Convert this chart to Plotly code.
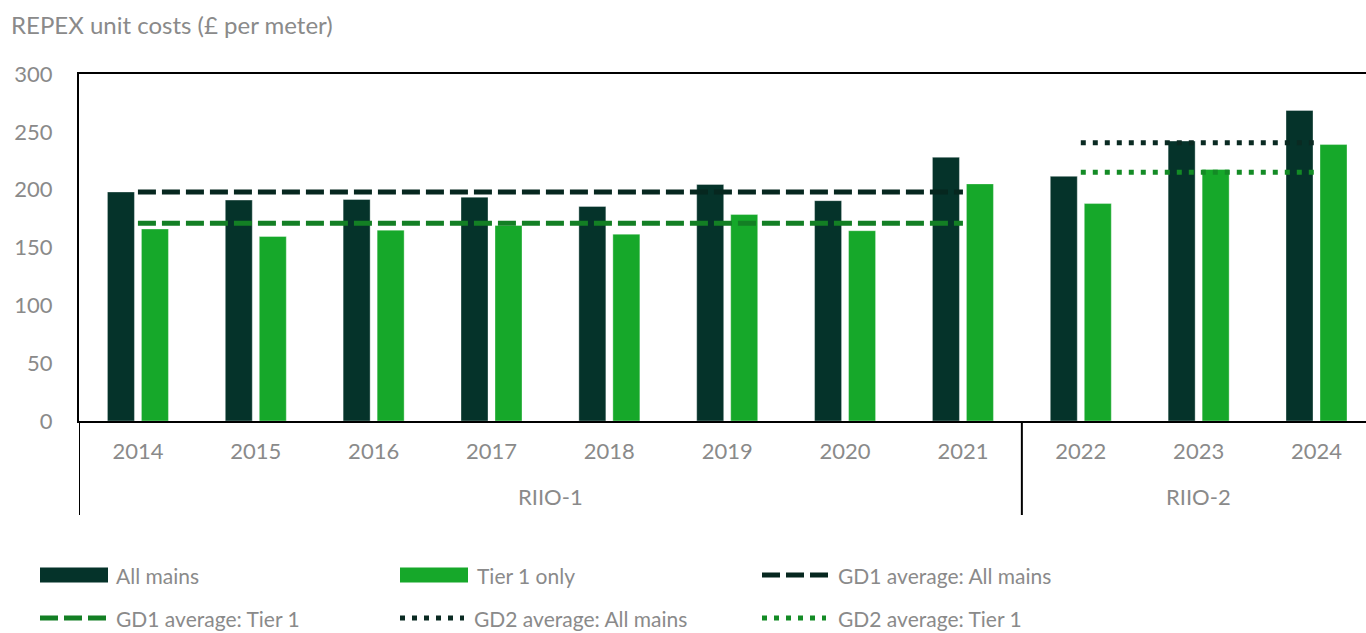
import plotly.graph_objects as go

years = ["2014", "2015", "2016", "2017", "2018", "2019", "2020", "2021", "2022", "2023", "2024"]
periods = ["RIIO-1"] * 8 + ["RIIO-2"] * 3
all_mains = [198, 191, 191.5, 193.5, 185.5, 204.5, 190.5, 228, 211.5, 242, 268.5]
tier1_only = [166, 159.5, 165, 169, 161.5, 178.5, 164.5, 205, 188, 217.5, 239]
gd1_avg_all = 198
gd1_avg_tier1 = 171
gd2_avg_all = 240.5
gd2_avg_tier1 = 215
y_ticks = [0, 50, 100, 150, 200, 250, 300]

DARK = "#05332A"
GREEN = "#16A82A"
GD1_ALL_C = "#06271F"
GD1_T1_C = "#137F24"
GD2_ALL_C = "#0A2A22"
GD2_T1_C = "#138B25"
GREY = "#8a8a8a"
FONT = "Lato"

W, H = 1366, 633
ML, MR, MT, MB = 79, 0, 74, 212
PW, PH = W - ML - MR, H - MT - MB

def px(x):
    return (x - ML) / PW

def py(y):
    return (H - MB - y) / PH

xs = list(range(len(years)))
gd1_idx = [i for i, p in enumerate(periods) if p == "RIIO-1"]
gd2_idx = [i for i, p in enumerate(periods) if p == "RIIO-2"]

fig = go.Figure()
fig.add_trace(go.Bar(x=xs, y=all_mains, name="All mains", marker=dict(color=DARK, line=dict(color="rgba(255,255,255,0.35)", width=1))))
fig.add_trace(go.Bar(x=xs, y=tier1_only, name="Tier 1 only", marker=dict(color=GREEN, line=dict(color="rgba(255,255,255,0.35)", width=1))))

fig.add_trace(go.Scatter(x=[gd1_idx[0], gd1_idx[-1]], y=[gd1_avg_all] * 2, mode="lines",
                         line=dict(color=GD1_ALL_C, width=5, dash="18px,6px"), name="GD1 average: All mains"))
fig.add_trace(go.Scatter(x=[gd1_idx[0], gd1_idx[-1]], y=[gd1_avg_tier1] * 2, mode="lines",
                         line=dict(color=GD1_T1_C, width=5, dash="18px,6px"), name="GD1 average: Tier 1"))
fig.add_trace(go.Scatter(x=[gd2_idx[0], gd2_idx[-1]], y=[gd2_avg_all] * 2, mode="lines",
                         line=dict(color=GD2_ALL_C, width=5, dash="5px,7px"), name="GD2 average: All mains"))
fig.add_trace(go.Scatter(x=[gd2_idx[0], gd2_idx[-1]], y=[gd2_avg_tier1] * 2, mode="lines",
                         line=dict(color=GD2_T1_C, width=5, dash="5px,7px"), name="GD2 average: Tier 1"))

shapes = []
annotations = []

# category group dividers
bounds = [-0.5, gd1_idx[-1] + 0.5]
for b in bounds:
    shapes.append(dict(type="line", xref="x", yref="paper", x0=b, x1=b, y0=0, y1=py(515),
                       line=dict(color="black", width=2)))

for name, idx in [("RIIO-1", gd1_idx), ("RIIO-2", gd2_idx)]:
    annotations.append(dict(text=name, xref="x", yref="paper", x=(idx[0] + idx[-1]) / 2, y=py(496),
                            showarrow=False, xanchor="center", yanchor="middle",
                            font=dict(family=FONT, size=22, color=GREY)))

# title
annotations.append(dict(text="REPEX unit costs (£ per meter)", xref="paper", yref="paper",
                        x=px(9), y=py(25), showarrow=False, xanchor="left", yanchor="middle",
                        font=dict(family=FONT, size=24, color=GREY)))

# custom legend
legend_items = [
    ("rect", DARK, None, "All mains", 40, 108, 114, 575),
    ("rect", GREEN, None, "Tier 1 only", 400, 468, 475, 575),
    ("line", GD1_ALL_C, "18px,6px", "GD1 average: All mains", 762, 828, 836, 575),
    ("line", GD1_T1_C, "18px,6px", "GD1 average: Tier 1", 40, 106, 114, 618),
    ("line", GD2_ALL_C, "5px,7px", "GD2 average: All mains", 400, 464, 472, 618),
    ("line", GD2_T1_C, "5px,7px", "GD2 average: Tier 1", 762, 826, 836, 618),
]
for kind, color, dash, label, x0, x1, tx, yc in legend_items:
    if kind == "rect":
        shapes.append(dict(type="rect", xref="paper", yref="paper", x0=px(x0), x1=px(x1),
                           y0=py(yc + 7.5), y1=py(yc - 7.5), fillcolor=color, line=dict(width=0)))
    else:
        shapes.append(dict(type="line", xref="paper", yref="paper", x0=px(x0), x1=px(x1),
                           y0=py(yc), y1=py(yc), line=dict(color=color, width=5, dash=dash)))
    annotations.append(dict(text=label, xref="paper", yref="paper", x=px(tx), y=py(yc),
                            showarrow=False, xanchor="left", yanchor="middle",
                            font=dict(family=FONT, size=21, color=GREY)))

fig.update_layout(
    width=W, height=H,
    margin=dict(l=ML, r=MR, t=MT, b=MB, pad=0),
    paper_bgcolor="white", plot_bgcolor="white",
    barmode="group", bargap=0.423, bargroupgap=0.206,
    showlegend=False,
    font=dict(family=FONT, size=22, color=GREY),
    shapes=shapes, annotations=annotations,
    xaxis=dict(range=[-0.5, 10.42], tickmode="array", tickvals=xs, ticktext=years,
               showgrid=False, zeroline=False, showline=True, mirror=True,
               linecolor="black", linewidth=2, ticks="", ticklabelstandoff=10,
               tickfont=dict(family=FONT, size=22, color=GREY)),
    yaxis=dict(range=[0, 300], tickmode="array", tickvals=y_ticks, showgrid=False, zeroline=False,
               showline=True, linecolor="black", linewidth=2, ticks="", ticklabelstandoff=20,
               tickfont=dict(family=FONT, size=22, color=GREY)),
)

fig.write_html("out.html")
